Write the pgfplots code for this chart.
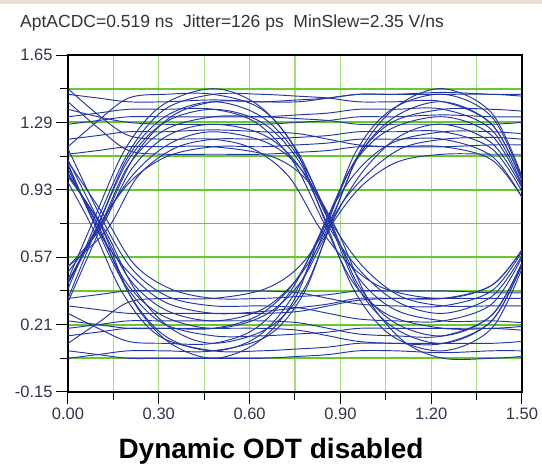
\documentclass[border=0pt]{standalone}
\usepackage{fontspec}
\setmainfont{Liberation Sans}
\usepackage{pgfplots}
\pgfplotsset{compat=1.18}

\definecolor{eyeblue}{RGB}{36,54,164}
\definecolor{hgrid}{RGB}{105,200,45}
\definecolor{vgrid}{RGB}{165,220,125}
\definecolor{ticktext}{RGB}{55,50,75}
\definecolor{strip}{RGB}{232,224,214}
\pgfplotsset{eye/.style={eyeblue, solid, line width=0.95pt, smooth, tension=0.55, mark=none}}

\begin{document}
\begin{tikzpicture}
\path[use as bounding box] (0,0) rectangle (542pt,472pt);
\fill[strip] (0,468pt) rectangle (542pt,472pt);
\node[anchor=base west, inner sep=0pt, text=black!80, font=\fontsize{17.5}{20}\selectfont]
  at (20pt,444pt) {AptACDC=0.519 ns\ \ Jitter=126 ps\ \ MinSlew=2.35 V/ns};
\node[anchor=base, inner sep=0pt, font=\fontsize{28}{32}\selectfont\bfseries]
  at (271pt,13pt) {Dynamic ODT disabled};

\begin{axis}[
    at={(68pt,80pt)}, anchor=south west,
    scale only axis, width=454pt, height=337pt,
    xmin=0, xmax=1.5, ymin=-0.15, ymax=1.65,
    xtick={0,0.3,0.6,0.9,1.2,1.5},
    minor xtick={0.15,0.45,0.75,1.05,1.35},
    ytick={-0.15,0.21,0.57,0.93,1.29,1.65},
    minor ytick={0.03,0.39,0.75,1.11,1.47},
    xticklabels={0.00,0.30,0.60,0.90,1.20,1.50},
    yticklabels={-0.15,0.21,0.57,0.93,1.29,1.65},
    grid=both,
    major x grid style={vgrid, line width=1.2pt},
    minor x grid style={vgrid, line width=1.2pt},
    major y grid style={hgrid, line width=1.9pt},
    minor y grid style={hgrid, line width=1.9pt},
    axis line style={black, line width=1.6pt},
    tick pos=left,
    tick align=outside,
    major tick length=12pt, minor tick length=8pt,
    tick style={black, line width=1pt},
    ticklabel style={font=\fontsize{16.5}{19}\selectfont, text=ticktext},
]
% steady high / low levels
\addplot[eye] coordinates {(0,1.44)(0.10,1.42)(0.20,1.40)(0.32,1.40)(0.48,1.41)(0.64,1.40)(0.76,1.40)(0.86,1.42)(0.96,1.44)(1.08,1.44)(1.24,1.45)(1.40,1.44)(1.50,1.44)};
\addplot[eye] coordinates {(0,1.20)(0.10,1.22)(0.20,1.24)(0.32,1.24)(0.48,1.25)(0.64,1.24)(0.76,1.23)(0.86,1.20)(0.96,1.17)(1.08,1.16)(1.24,1.16)(1.40,1.17)(1.50,1.17)};
\addplot[eye] coordinates {(0,0.07)(0.10,0.05)(0.20,0.03)(0.32,0.03)(0.48,0.03)(0.64,0.03)(0.76,0.04)(0.86,0.05)(0.96,0.07)(1.08,0.07)(1.24,0.06)(1.40,0.07)(1.50,0.07)};
\addplot[eye] coordinates {(0,0.31)(0.10,0.29)(0.20,0.27)(0.32,0.27)(0.48,0.27)(0.64,0.27)(0.76,0.28)(0.86,0.31)(0.96,0.34)(1.08,0.35)(1.24,0.35)(1.40,0.35)(1.50,0.35)};
\addplot[eye] coordinates {(0,1.36)(0.10,1.32)(0.20,1.29)(0.32,1.28)(0.48,1.28)(0.64,1.28)(0.76,1.29)(0.86,1.30)(0.96,1.32)(1.08,1.32)(1.24,1.33)(1.40,1.32)(1.50,1.32)};
\addplot[eye] coordinates {(0,0.15)(0.10,0.17)(0.20,0.19)(0.32,0.19)(0.48,0.19)(0.64,0.19)(0.76,0.18)(0.86,0.15)(0.96,0.12)(1.08,0.11)(1.24,0.11)(1.40,0.11)(1.50,0.12)};
% 1010 / 0101
\addplot[eye] coordinates {(0,1.09)(0.10,0.77)(0.20,0.46)(0.32,0.29)(0.48,0.23)(0.64,0.29)(0.76,0.46)(0.86,0.73)(0.96,1.11)(1.08,1.32)(1.24,1.40)(1.40,1.28)(1.50,0.98)};
\addplot[eye] coordinates {(0,1.00)(0.12,0.72)(0.22,0.40)(0.34,0.19)(0.48,0.11)(0.66,0.19)(0.78,0.40)(0.88,0.78)(0.98,1.04)(1.10,1.22)(1.24,1.28)(1.40,1.18)(1.50,0.94)};
\addplot[eye] coordinates {(0,0.45)(0.09,0.79)(0.19,1.15)(0.31,1.38)(0.48,1.47)(0.63,1.38)(0.75,1.15)(0.85,0.76)(0.95,0.38)(1.07,0.15)(1.24,0.07)(1.40,0.19)(1.50,0.51)};
\addplot[eye] coordinates {(0,0.52)(0.11,0.73)(0.21,1.04)(0.33,1.22)(0.48,1.28)(0.65,1.22)(0.77,1.04)(0.87,0.71)(0.97,0.49)(1.09,0.33)(1.24,0.27)(1.40,0.36)(1.50,0.58)};
\addplot[eye] coordinates {(0,0.44)(0.10,0.75)(0.20,1.11)(0.32,1.32)(0.48,1.40)(0.64,1.32)(0.76,1.11)(0.86,0.79)(0.96,0.42)(1.08,0.22)(1.24,0.15)(1.40,0.26)(1.50,0.54)};
\addplot[eye] coordinates {(0,1.02)(0.10,0.74)(0.20,0.38)(0.32,0.15)(0.48,0.07)(0.63,0.15)(0.75,0.38)(0.85,0.72)(0.95,1.13)(1.07,1.36)(1.24,1.44)(1.40,1.32)(1.50,0.99)};
% 1100 / 0011
\addplot[eye] coordinates {(0,1.32)(0.10,1.34)(0.20,1.36)(0.32,1.36)(0.48,1.36)(0.62,1.29)(0.74,1.09)(0.84,0.77)(0.94,0.44)(1.06,0.26)(1.24,0.19)(1.40,0.19)(1.50,0.20)};
\addplot[eye] coordinates {(0,1.12)(0.10,1.14)(0.20,1.16)(0.32,1.16)(0.48,1.16)(0.67,1.11)(0.79,0.98)(0.89,0.71)(0.99,0.35)(1.11,0.12)(1.24,0.03)(1.40,0.03)(1.50,0.04)};
\addplot[eye] coordinates {(0,0.23)(0.10,0.21)(0.20,0.19)(0.32,0.19)(0.48,0.19)(0.63,0.26)(0.75,0.44)(0.85,0.74)(0.95,1.09)(1.07,1.29)(1.24,1.36)(1.40,1.36)(1.50,1.35)};
\addplot[eye] coordinates {(0,0.03)(0.10,0.05)(0.20,0.07)(0.32,0.07)(0.48,0.07)(0.66,0.15)(0.78,0.38)(0.88,0.79)(0.98,1.00)(1.10,1.15)(1.24,1.20)(1.40,1.21)(1.50,1.20)};
% 1001 / 0110
\addplot[eye] coordinates {(0,1.15)(0.11,0.78)(0.21,0.51)(0.33,0.36)(0.48,0.31)(0.64,0.31)(0.76,0.30)(0.86,0.27)(0.96,0.24)(1.08,0.23)(1.24,0.23)(1.40,0.32)(1.50,0.57)};
\addplot[eye] coordinates {(0,0.97)(0.08,0.73)(0.18,0.38)(0.30,0.15)(0.48,0.07)(0.64,0.07)(0.76,0.08)(0.86,0.09)(0.96,0.11)(1.08,0.11)(1.24,0.11)(1.40,0.23)(1.50,0.53)};
\addplot[eye] coordinates {(0,1.06)(0.10,0.71)(0.20,0.49)(0.32,0.33)(0.48,0.27)(0.64,0.28)(0.76,0.30)(0.86,0.32)(0.96,0.35)(1.08,0.35)(1.24,0.35)(1.40,0.42)(1.50,0.61)};
\addplot[eye] coordinates {(0,0.40)(0.10,0.78)(0.20,1.13)(0.32,1.36)(0.48,1.44)(0.64,1.44)(0.76,1.43)(0.86,1.42)(0.96,1.40)(1.08,1.40)(1.24,1.40)(1.40,1.28)(1.50,0.98)};
\addplot[eye] coordinates {(0,0.52)(0.13,0.72)(0.23,1.00)(0.35,1.15)(0.48,1.20)(0.64,1.20)(0.76,1.21)(0.86,1.22)(0.96,1.24)(1.08,1.24)(1.24,1.24)(1.40,1.15)(1.50,0.92)};
\addplot[eye] coordinates {(0,0.43)(0.11,0.76)(0.21,0.98)(0.33,1.11)(0.48,1.16)(0.64,1.16)(0.76,1.17)(0.86,1.18)(0.96,1.20)(1.08,1.20)(1.24,1.20)(1.40,1.11)(1.50,0.89)};
% 1000 / 0111
\addplot[eye] coordinates {(0,1.07)(0.09,0.74)(0.19,0.42)(0.31,0.22)(0.48,0.15)(0.64,0.15)(0.76,0.16)(0.86,0.17)(0.96,0.19)(1.08,0.19)(1.24,0.19)(1.40,0.19)(1.50,0.18)};
\addplot[eye] coordinates {(0,1.08)(0.12,0.79)(0.22,0.53)(0.34,0.40)(0.48,0.35)(0.64,0.35)(0.76,0.36)(0.86,0.37)(0.96,0.39)(1.08,0.39)(1.24,0.39)(1.40,0.38)(1.50,0.38)};
\addplot[eye] coordinates {(0,0.49)(0.10,0.72)(0.20,1.06)(0.32,1.25)(0.48,1.32)(0.64,1.32)(0.76,1.31)(0.86,1.30)(0.96,1.28)(1.08,1.28)(1.24,1.28)(1.40,1.28)(1.50,1.29)};
\addplot[eye] coordinates {(0,0.33)(0.12,0.77)(0.22,1.11)(0.34,1.32)(0.48,1.40)(0.64,1.40)(0.76,1.41)(0.86,1.42)(0.96,1.44)(1.08,1.44)(1.24,1.44)(1.40,1.44)(1.50,1.43)};
% 1110 / 0001
\addplot[eye] coordinates {(0,1.28)(0.10,1.30)(0.20,1.32)(0.32,1.32)(0.48,1.32)(0.64,1.32)(0.76,1.33)(0.86,1.34)(0.96,1.36)(1.08,1.36)(1.24,1.36)(1.40,1.25)(1.50,0.96)};
\addplot[eye] coordinates {(0,1.40)(0.10,1.26)(0.20,1.14)(0.32,1.12)(0.48,1.12)(0.64,1.12)(0.76,1.13)(0.86,1.14)(0.96,1.16)(1.08,1.16)(1.24,1.16)(1.40,1.09)(1.50,0.89)};
\addplot[eye] coordinates {(0,0.19)(0.10,0.21)(0.20,0.23)(0.32,0.23)(0.48,0.23)(0.64,0.23)(0.76,0.22)(0.86,0.19)(0.96,0.16)(1.08,0.15)(1.24,0.15)(1.40,0.26)(1.50,0.54)};
\addplot[eye] coordinates {(0,0.35)(0.10,0.37)(0.20,0.39)(0.32,0.39)(0.48,0.39)(0.64,0.39)(0.76,0.38)(0.86,0.35)(0.96,0.32)(1.08,0.31)(1.24,0.31)(1.40,0.39)(1.50,0.60)};
% 1101 / 0010
\addplot[eye] coordinates {(0,1.16)(0.10,1.30)(0.20,1.42)(0.32,1.44)(0.48,1.44)(0.64,1.36)(0.76,1.13)(0.86,0.77)(0.96,0.40)(1.08,0.19)(1.24,0.11)(1.40,0.23)(1.50,0.53)};
\addplot[eye] coordinates {(0,1.47)(0.10,1.33)(0.20,1.22)(0.32,1.20)(0.48,1.20)(0.61,1.15)(0.73,1.00)(0.83,0.73)(0.93,0.53)(1.05,0.40)(1.24,0.35)(1.40,0.42)(1.50,0.61)};
\addplot[eye] coordinates {(0,0.11)(0.10,0.22)(0.20,0.33)(0.32,0.35)(0.48,0.35)(0.65,0.40)(0.77,0.53)(0.87,0.78)(0.97,1.15)(1.09,1.38)(1.24,1.47)(1.40,1.34)(1.50,1.00)};
\addplot[eye] coordinates {(0,0.27)(0.10,0.19)(0.20,0.12)(0.32,0.11)(0.48,0.11)(0.62,0.19)(0.74,0.40)(0.84,0.72)(0.94,1.06)(1.06,1.25)(1.24,1.32)(1.40,1.22)(1.50,0.95)};
% 1011 / 0100
\addplot[eye] coordinates {(0,1.01)(0.11,0.73)(0.21,0.35)(0.33,0.12)(0.48,0.03)(0.63,0.12)(0.75,0.35)(0.85,0.76)(0.95,1.02)(1.07,1.18)(1.24,1.24)(1.40,1.24)(1.50,1.23)};
\addplot[eye] coordinates {(0,1.04)(0.09,0.76)(0.19,0.44)(0.31,0.26)(0.48,0.19)(0.65,0.26)(0.77,0.44)(0.87,0.74)(0.97,0.95)(1.09,1.08)(1.24,1.12)(1.40,1.12)(1.50,1.12)};
\addplot[eye] coordinates {(0,0.35)(0.10,0.74)(0.20,1.09)(0.32,1.29)(0.48,1.36)(0.64,1.29)(0.76,1.09)(0.86,0.77)(0.96,0.46)(1.08,0.29)(1.24,0.23)(1.40,0.23)(1.50,0.22)};
\addplot[eye] coordinates {(0,0.43)(0.12,0.78)(0.22,1.02)(0.34,1.18)(0.48,1.24)(0.66,1.18)(0.78,1.02)(0.88,0.73)(0.98,0.51)(1.10,0.36)(1.24,0.31)(1.40,0.31)(1.50,0.31)};
\end{axis}
\end{tikzpicture}
\end{document}
